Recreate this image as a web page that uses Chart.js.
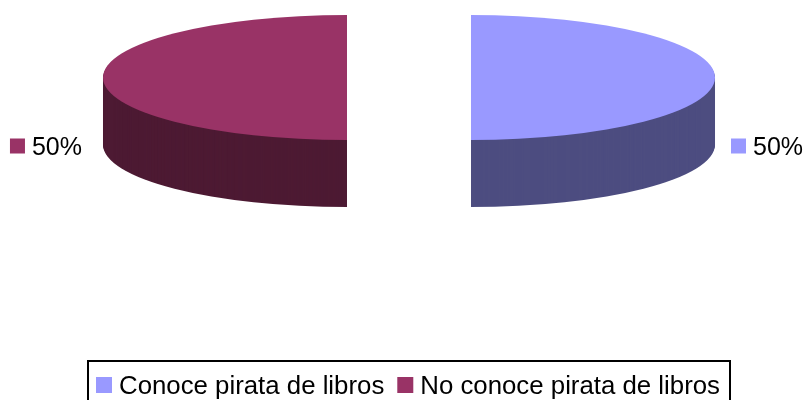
<!DOCTYPE html>
<html lang="es">
<head>
    <meta charset="UTF-8">
    <title>Conoce pirata de libros</title>
    <script src="https://cdn.jsdelivr.net/npm/chart.js"></script>
    <style>
        body { margin: 0; background: #fff; }
        canvas { display: block; }
    </style>
</head>
<body>
    <canvas id="pieChart" width="805" height="400"></canvas>

    <script>
        const categories = ["Conoce pirata de libros", "No conoce pirata de libros"];
        const values = [50, 50];
        const topColors = ["#9999FF", "#993366"];
        const sideColors = ["#4D4D80", "#4D1A33"];

        const FONT = "25px 'Liberation Sans', Arial, sans-serif";
        const LEGEND_FONT = "25.8px 'Liberation Sans', Arial, sans-serif";
        const EXPLODE = 62;      // gap between the two halves (each side)
        const TILT = 62.5 / 244; // vertical squash of the top face
        const DEPTH = 67;        // thickness of the pie
        const TOP_Y = 77.5;      // screen y of the top face centre

        function percentText(v) {
            const total = values.reduce((a, b) => a + b, 0);
            return Math.round(v / total * 100) + "%";
        }

        // draws the pie as an exploded 3D disc using the library's own arc elements
        const pie3d = {
            id: 'pie3d',
            beforeDatasetsDraw(chart) {
                const ctx = chart.ctx;
                const arcs = chart.getDatasetMeta(0).data;
                arcs.forEach((arc, i) => {
                    const mid = (arc.startAngle + arc.endAngle) / 2;
                    const dx = Math.cos(mid) * EXPLODE;
                    const dy = Math.sin(mid) * EXPLODE * TILT;

                    const side = Object.create(arc);
                    side.options = Object.create(arc.options, { backgroundColor: { value: sideColors[i] } });
                    for (let d = DEPTH; d > 0; d--) {
                        ctx.save();
                        ctx.translate(dx, TOP_Y - arc.y * TILT + dy + d);
                        ctx.scale(1, TILT);
                        side.draw(ctx);
                        ctx.restore();
                    }

                    ctx.save();
                    ctx.translate(dx, TOP_Y - arc.y * TILT + dy);
                    ctx.scale(1, TILT);
                    arc.draw(ctx);
                    ctx.restore();
                });
                return false;
            },
            afterDraw(chart) {
                const ctx = chart.ctx;
                const arcs = chart.getDatasetMeta(0).data;
                ctx.save();
                ctx.font = FONT;
                ctx.textBaseline = 'alphabetic';
                ctx.fillStyle = '#000';

                // data labels with colour keys
                const labelY = TOP_Y + DEPTH + 10;
                arcs.forEach((arc, i) => {
                    const mid = (arc.startAngle + arc.endAngle) / 2;
                    const txt = percentText(values[i]);
                    const w = ctx.measureText(txt).width;
                    let x;
                    if (Math.cos(mid) >= 0) {
                        x = arc.x + EXPLODE + arc.outerRadius + 16;
                    } else {
                        x = arc.x - EXPLODE - arc.outerRadius - 21 - w - 22;
                    }
                    ctx.fillStyle = topColors[i];
                    ctx.fillRect(x, labelY - 16, 15, 15);
                    ctx.fillStyle = '#000';
                    ctx.fillText(txt, x + 22, labelY);
                });

                // legend
                ctx.font = LEGEND_FONT;
                const widths = categories.map(c => ctx.measureText(c).width);
                const content = widths.reduce((a, w) => a + 16 + 7 + w, 0) + 13 * (categories.length - 1);
                const boxW = Math.round(content + 18);
                const boxX = Math.round(arcs[0].x - boxW / 2) - 1;
                const boxY = 360;
                ctx.lineWidth = 2;
                ctx.strokeStyle = '#000';
                ctx.strokeRect(boxX + 1, boxY + 1, boxW, 60);
                let cx = boxX + 9;
                categories.forEach((c, i) => {
                    ctx.fillStyle = topColors[i];
                    ctx.fillRect(cx, 377, 16, 16);
                    ctx.fillStyle = '#000';
                    ctx.fillText(c, cx + 23, 394);
                    cx += 16 + 7 + widths[i] + 13;
                });
                ctx.restore();
            }
        };

        new Chart(document.getElementById('pieChart'), {
            type: 'pie',
            data: {
                labels: categories,
                datasets: [{
                    data: values,
                    backgroundColor: topColors,
                    borderWidth: 0
                }]
            },
            options: {
                responsive: false,
                animation: false,
                events: [],
                radius: 244,
                layout: { padding: { left: 13 } },
                plugins: {
                    legend: { display: false },
                    tooltip: { enabled: false }
                }
            },
            plugins: [pie3d]
        });
    </script>
</body>
</html>
